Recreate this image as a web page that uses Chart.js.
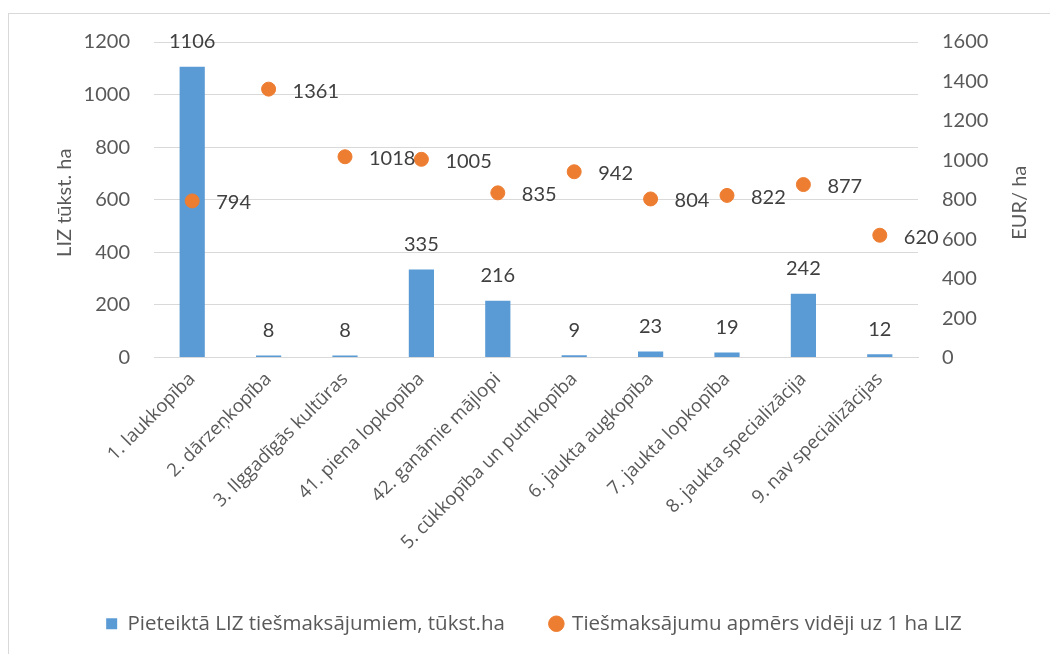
<!DOCTYPE html>
<html>
<head>
<meta charset="utf-8">
<script src="https://cdn.jsdelivr.net/npm/chart.js@4"></script>
<style>
  body { margin: 0; background: #fff; }
  #wrap { position: relative; width: 1050px; height: 654px; overflow: hidden; }
  #frame { position: absolute; left: 8px; top: 13px; width: 1100px; height: 700px; border: 1px solid #d9d9d9; }
  canvas { position: absolute; left: 0; top: 0; }
</style>
</head>
<body>
<div id="wrap">
  <div id="frame"></div>
  <canvas id="myChart" width="1050" height="654"></canvas>
</div>
<script>
// dati
const nozares = ['1. laukkopība', '2. dārzeņkopība', '3. Ilggadīgās kultūras', '41. piena lopkopība',
  '42. ganāmie mājlopi', '5. cūkkopība un putnkopība', '6. jaukta augkopība', '7. jaukta lopkopība',
  '8. jaukta specializācija', '9. nav specializācijas'];
const platiba = [1106, 8, 8, 335, 216, 9, 23, 19, 242, 12];
const maksajumi = [794, 1361, 1018, 1005, 835, 942, 804, 822, 877, 620];
const kreisaAssTicks = [0, 200, 400, 600, 800, 1000, 1200];
const labaAssTicks = [0, 200, 400, 600, 800, 1000, 1200, 1400, 1600];

const teksts = '#595959';
const fonts = 'Lato, "Open Sans", sans-serif';

// vērtību uzraksti + asu nosaukumi
const uzrakstiPlugin = {
  id: 'uzraksti',
  afterDatasetsDraw(chart) {
    const ctx = chart.ctx;
    const area = chart.chartArea;
    ctx.save();
    ctx.font = '20px ' + fonts;
    ctx.fillStyle = '#404040';
    chart.getDatasetMeta(0).data.forEach((bar, i) => {
      ctx.textAlign = 'center';
      ctx.textBaseline = 'middle';
      ctx.fillText(platiba[i], bar.x, bar.y - 25);
    });
    chart.getDatasetMeta(1).data.forEach((pt, i) => {
      ctx.textAlign = 'left';
      ctx.textBaseline = 'middle';
      ctx.fillText(maksajumi[i], pt.x + 24, pt.y + 2);
    });
    // asu nosaukumi
    const yc = (area.top + area.bottom) / 2 + 3;
    ctx.fillStyle = teksts;
    ctx.textAlign = 'center';
    ctx.textBaseline = 'middle';
    [['LIZ tūkst. ha', 65], ['EUR/ ha', 1020]].forEach(([t, x]) => {
      ctx.save();
      ctx.translate(x, yc);
      ctx.rotate(-Math.PI / 2);
      ctx.fillText(t, 0, 0);
      ctx.restore();
    });
    ctx.restore();
  }
};

const config = {
  type: 'bar',
  data: {
    labels: nozares,
    datasets: [{
      label: 'Pieteiktā LIZ tiešmaksājumiem, tūkst.ha',
      data: platiba,
      backgroundColor: '#5b9bd5',
      barPercentage: 0.33,
      categoryPercentage: 1,
      yAxisID: 'y',
      pointStyle: 'rect',
      order: 2
    }, {
      type: 'line',
      label: 'Tiešmaksājumu apmērs vidēji uz 1 ha LIZ',
      data: maksajumi,
      showLine: false,
      backgroundColor: '#ed7d31',
      borderColor: '#ed7d31',
      pointRadius: 7,
      pointHoverRadius: 7,
      pointStyle: 'circle',
      yAxisID: 'y1',
      order: 1
    }]
  },
  options: {
    responsive: false,
    animation: false,
    layout: { padding: { top: 42, left: 40, right: 22, bottom: 10 } },
    plugins: {
      tooltip: { enabled: false },
      legend: {
        position: 'bottom',
        labels: {
          usePointStyle: true,
          boxWidth: 11,
          boxHeight: 11,
          padding: 46,
          color: teksts,
          sort: (a, b) => a.datasetIndex - b.datasetIndex,
          font: { size: 20.5, family: '"Open Sans", sans-serif' }
        }
      }
    },
    scales: {
      x: {
        grid: { display: false },
        border: { color: '#d9d9d9' },
        ticks: {
          color: teksts,
          minRotation: 45,
          maxRotation: 45,
          font: { size: 18.5, family: '"Open Sans", sans-serif' }
        },
        afterFit(scale) { scale.height = 210; }
      },
      y: {
        position: 'left',
        min: 0, max: 1200,
        afterBuildTicks(scale) { scale.ticks = kreisaAssTicks.map(v => ({ value: v })); },
        grid: { color: '#d9d9d9', drawTicks: false },
        border: { display: false },
        ticks: { color: teksts, padding: 24, font: { size: 20, family: fonts }, callback: v => String(v) },
        afterFit(scale) { scale.width = 114; }
      },
      y1: {
        position: 'right',
        min: 0, max: 1600,
        afterBuildTicks(scale) { scale.ticks = labaAssTicks.map(v => ({ value: v })); },
        grid: { display: false },
        border: { display: false },
        ticks: { color: teksts, padding: 16, font: { size: 20, family: fonts }, callback: v => String(v) },
        afterFit(scale) { scale.width = 110; }
      }
    }
  },
  plugins: [uzrakstiPlugin]
};

const myChart = new Chart(document.getElementById('myChart'), config);
</script>
</body>
</html>
